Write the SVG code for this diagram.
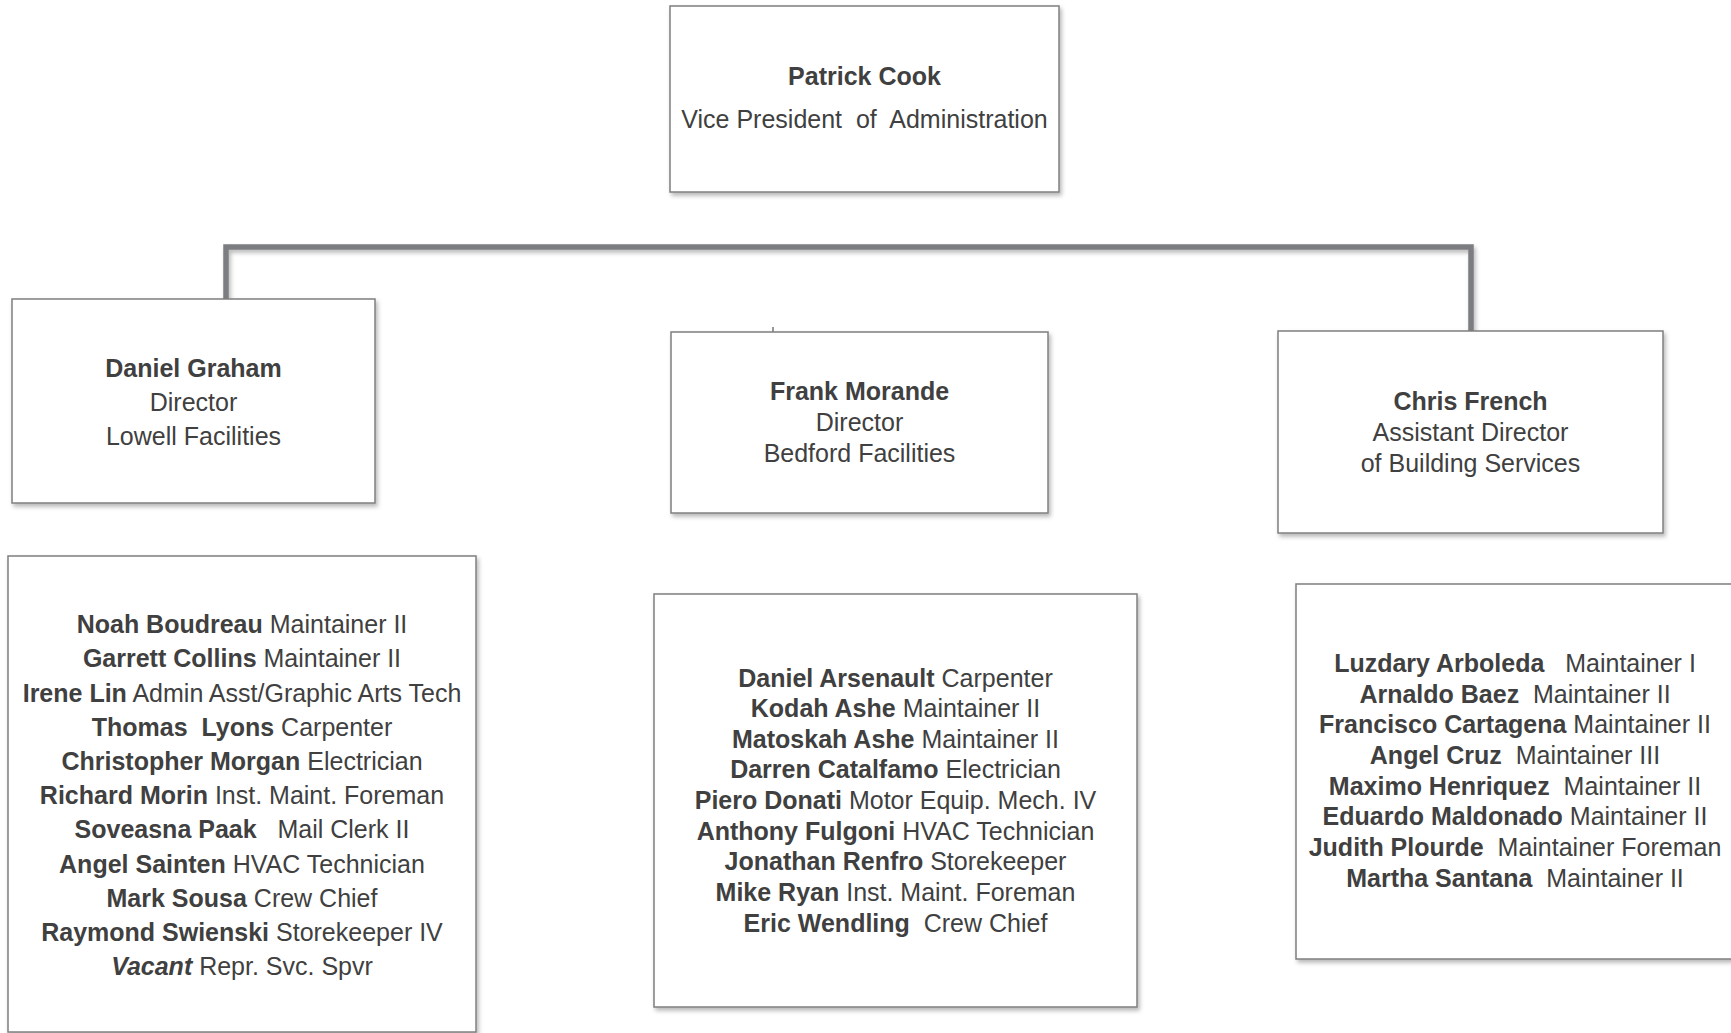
<svg xmlns="http://www.w3.org/2000/svg" width="1731" height="1033" viewBox="0 0 1731 1033">
<defs>
<filter id="sh" x="-5%" y="-5%" width="115%" height="115%">
<feDropShadow dx="2" dy="3" stdDeviation="2" flood-color="#000" flood-opacity="0.28"/>
</filter>
<style>
.box{fill:#fff;stroke:#7f7f7f;stroke-width:1.5;filter:url(#sh)}
.conn{fill:none;stroke:#7c7d81;stroke-width:5.5;stroke-linejoin:miter;stroke-linecap:butt;filter:url(#sh)}
text{font-family:"Liberation Sans",Arial,sans-serif;font-size:25px;fill:#404040;text-anchor:middle;white-space:pre}
.b{font-weight:bold}
.bi{font-weight:bold;font-style:italic}
</style>
</defs>
<rect width="1731" height="1033" fill="#fff"/>
<g id="connectors">
<polyline class="conn" points="226,299 226,247 1471,247 1471,331"/>
<line class="conn" x1="850" y1="192" x2="850" y2="332"/>
<line class="conn" x1="229" y1="503" x2="229" y2="556"/>
<line class="conn" x1="850" y1="513" x2="850" y2="594"/>
<line class="conn" x1="1476" y1="533" x2="1476" y2="584"/>
<line x1="773" y1="327" x2="773" y2="333" stroke="#555" stroke-width="1.2"/>
</g>
<g id="patrick-cook">
<rect class="box" x="670" y="6" width="389" height="186"/>
<text x="864.5" y="85" class="b">Patrick Cook</text>
<text x="864.5" y="128">Vice President  of  Administration</text>
</g>
<g id="daniel-graham">
<rect class="box" x="12" y="299" width="363" height="204"/>
<text x="193.5" y="377" class="b">Daniel Graham</text>
<text x="193.5" y="411">Director</text>
<text x="193.5" y="445">Lowell Facilities</text>
</g>
<g id="frank-morande">
<rect class="box" x="671" y="332" width="377" height="181"/>
<text x="859.5" y="400" class="b">Frank Morande</text>
<text x="859.5" y="431">Director</text>
<text x="859.5" y="462">Bedford Facilities</text>
</g>
<g id="chris-french">
<rect class="box" x="1278" y="331" width="385" height="202"/>
<text x="1470.5" y="410" class="b">Chris French</text>
<text x="1470.5" y="441">Assistant Director</text>
<text x="1470.5" y="472">of Building Services</text>
</g>
<g id="lowell-staff">
<rect class="box" x="8" y="556" width="468" height="476"/>
<text x="242" y="633"><tspan class="b">Noah Boudreau</tspan> Maintainer II</text>
<text x="242" y="667"><tspan class="b">Garrett Collins</tspan> Maintainer II</text>
<text x="242" y="702"><tspan class="b">Irene Lin</tspan> Admin Asst/Graphic Arts Tech</text>
<text x="242" y="736"><tspan class="b">Thomas  Lyons</tspan> Carpenter</text>
<text x="242" y="770"><tspan class="b">Christopher Morgan</tspan> Electrician</text>
<text x="242" y="804"><tspan class="b">Richard Morin</tspan> Inst. Maint. Foreman</text>
<text x="242" y="838"><tspan class="b">Soveasna Paak</tspan>   Mail Clerk II</text>
<text x="242" y="873"><tspan class="b">Angel Sainten</tspan> HVAC Technician</text>
<text x="242" y="907"><tspan class="b">Mark Sousa</tspan> Crew Chief</text>
<text x="242" y="941"><tspan class="b">Raymond Swienski</tspan> Storekeeper IV</text>
<text x="242" y="975"><tspan class="bi">Vacant</tspan> Repr. Svc. Spvr</text>
</g>
<g id="bedford-staff">
<rect class="box" x="654" y="594" width="483" height="413"/>
<text x="895.5" y="687"><tspan class="b">Daniel Arsenault</tspan> Carpenter</text>
<text x="895.5" y="717"><tspan class="b">Kodah Ashe</tspan> Maintainer II</text>
<text x="895.5" y="748"><tspan class="b">Matoskah Ashe</tspan> Maintainer II</text>
<text x="895.5" y="778"><tspan class="b">Darren Catalfamo</tspan> Electrician</text>
<text x="895.5" y="809"><tspan class="b">Piero Donati</tspan> Motor Equip. Mech. IV</text>
<text x="895.5" y="840"><tspan class="b">Anthony Fulgoni</tspan> HVAC Technician</text>
<text x="895.5" y="870"><tspan class="b">Jonathan Renfro</tspan> Storekeeper</text>
<text x="895.5" y="901"><tspan class="b">Mike Ryan</tspan> Inst. Maint. Foreman</text>
<text x="895.5" y="932"><tspan class="b">Eric Wendling</tspan>  Crew Chief</text>
</g>
<g id="building-services-staff">
<rect class="box" x="1296" y="584" width="440" height="375"/>
<text x="1515" y="672"><tspan class="b">Luzdary Arboleda</tspan>   Maintainer I</text>
<text x="1515" y="703"><tspan class="b">Arnaldo Baez</tspan>  Maintainer II</text>
<text x="1515" y="733"><tspan class="b">Francisco Cartagena</tspan> Maintainer II</text>
<text x="1515" y="764"><tspan class="b">Angel Cruz</tspan>  Maintainer III</text>
<text x="1515" y="795"><tspan class="b">Maximo Henriquez</tspan>  Maintainer II</text>
<text x="1515" y="825"><tspan class="b">Eduardo Maldonado</tspan> Maintainer II</text>
<text x="1515" y="856"><tspan class="b">Judith Plourde</tspan>  Maintainer Foreman</text>
<text x="1515" y="887"><tspan class="b">Martha Santana</tspan>  Maintainer II</text>
</g>
</svg>
